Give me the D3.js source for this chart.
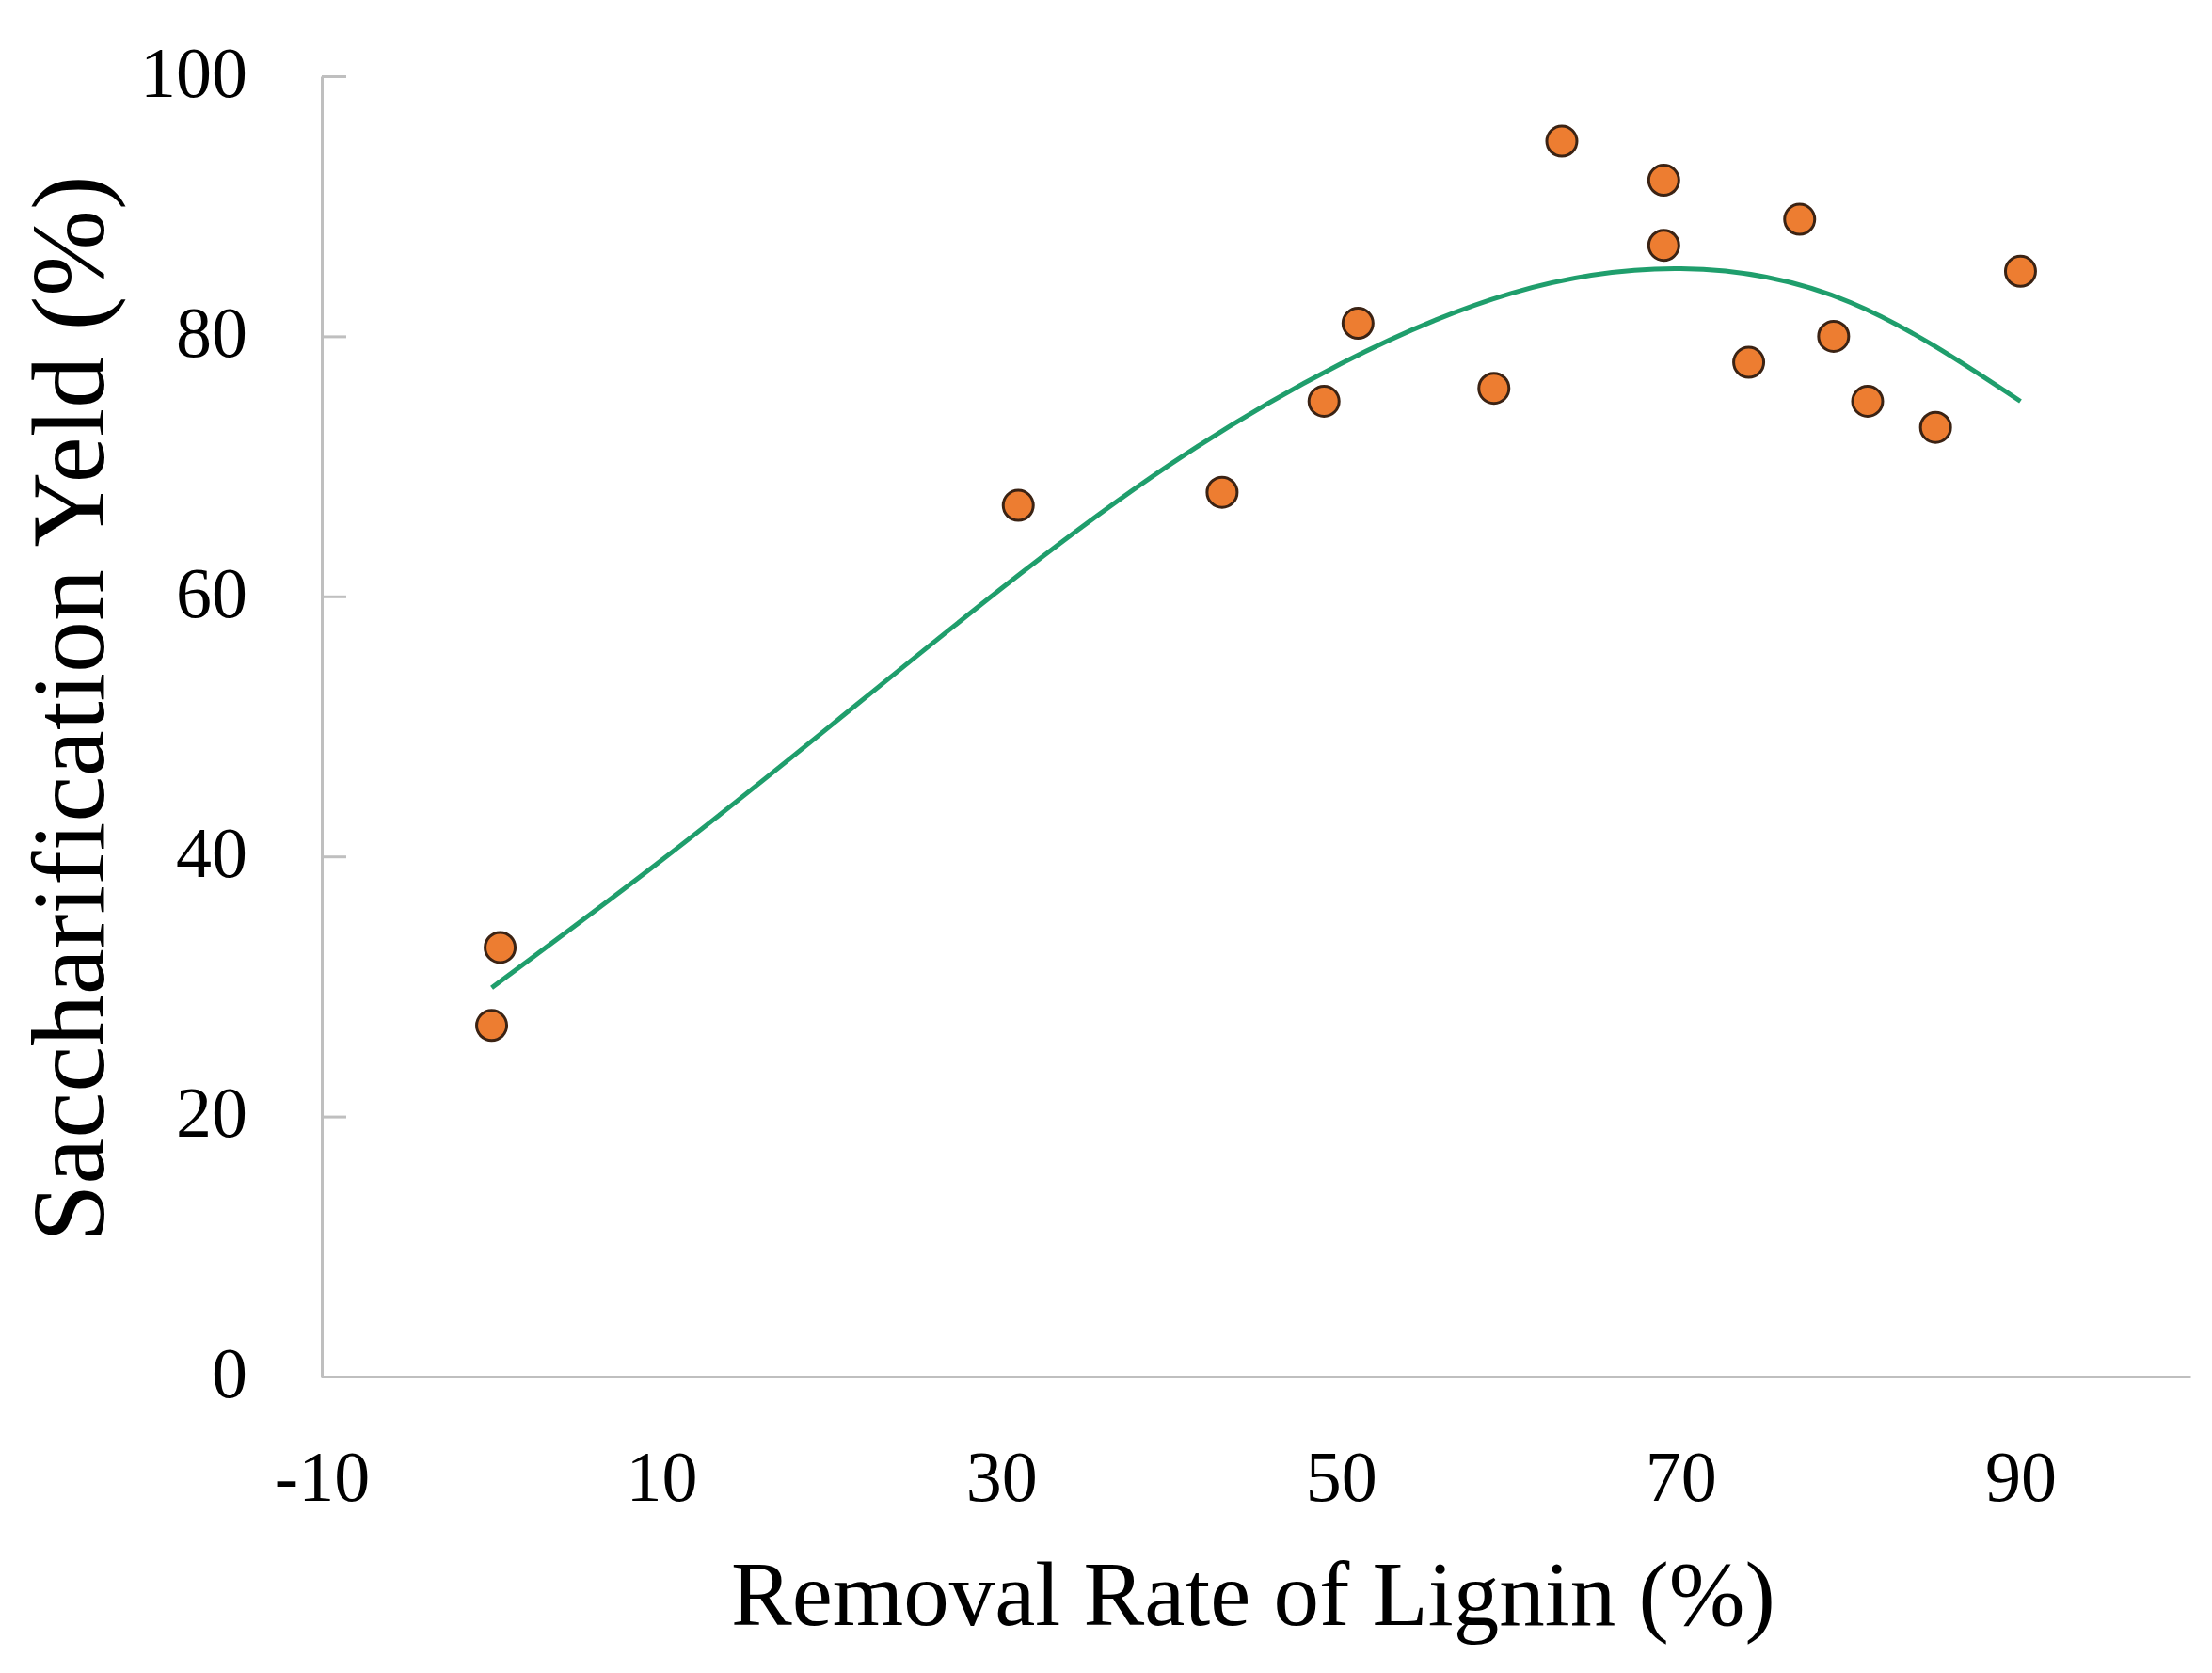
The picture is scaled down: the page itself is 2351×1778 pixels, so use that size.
<!DOCTYPE html>
<html>
<head>
<meta charset="utf-8">
<script src="https://cdn.jsdelivr.net/npm/d3@7"></script>
<style>
  body { margin: 0; background: #fff; }
  svg { display: block; }
</style>
</head>
<body>
<div id="chart"></div>
<script>
// data
const removalRate = [0, 0.5, 31, 43, 49, 51, 59, 63, 69, 69, 74, 77, 79, 81, 85, 90];
const yieldPct    = [27, 33, 67, 68, 75, 81, 76, 95, 92, 87, 78, 89, 80, 75, 73, 85];

// trend line, every 10 units
const trendX = [0, 10, 20, 30, 40, 50, 60, 70, 80, 90];
const trendY = [29.9, 39.7, 50.1, 60.6, 70.2, 77.9, 83.3, 85.2, 82.6, 75.0];

const xTicks = [-10, 10, 30, 50, 70, 90];
const yTicks = [0, 20, 40, 60, 80, 100];

const width = 2351, height = 1778;
const font = "'Liberation Serif', 'Times New Roman', serif";

const svg = d3.select("#chart")
  .append("svg").attr("width", width).attr("height", height);

const x = d3.scaleLinear().domain([-10, 100]).range([342, 2328]);
const y = d3.scaleLinear().domain([0, 100]).range([1463, 81]);

// ==== Axes ====
const gy = svg.append("g")
  .attr("transform", `translate(${x(-10)},0)`)
  .call(d3.axisLeft(y).tickValues(yTicks).tickSizeInner(-26).tickSizeOuter(0).tickPadding(79));

const gx = svg.append("g")
  .attr("transform", `translate(0,${y(0)})`)
  .call(d3.axisBottom(x).tickValues(xTicks).tickSize(0).tickPadding(78)
    .tickFormat(d => String(d)));

[gx, gy].forEach(g => {
  g.select(".domain").attr("stroke", "#bfbfbf").attr("stroke-width", 3);
  g.selectAll(".tick line").attr("stroke", "#bfbfbf").attr("stroke-width", 3);
  g.selectAll(".tick text")
    .attr("fill", "#000")
    .style("font-family", font)
    .style("font-size", "76px");
});
gy.selectAll(".tick text").attr("dy", "0.28em");

// ==== Trend line ====
const trend = trendX.map((v, i) => ({x: v, y: trendY[i]}));
svg.append("path")
  .datum(trend)
  .attr("fill", "none")
  .attr("stroke", "#1f9e6c")
  .attr("stroke-width", 5)
  .attr("d", d3.line().x(d => x(d.x)).y(d => y(d.y)).curve(d3.curveNatural));

// ==== Points ====
const points = removalRate.map((v, i) => ({x: v, y: yieldPct[i]}));
svg.selectAll("circle")
  .data(points)
  .join("circle")
  .attr("cx", d => x(d.x))
  .attr("cy", d => y(d.y))
  .attr("r", 16)
  .attr("fill", "#ed7d31")
  .attr("stroke", "#3b2314")
  .attr("stroke-width", 3);

// ==== Axis titles ====
svg.append("text")
  .attr("x", 1332)
  .attr("y", 1727)
  .attr("text-anchor", "middle")
  .style("font-family", font)
  .style("font-size", "97px")
  .text("Removal Rate of Lignin (%)");

svg.append("text")
  .attr("transform", `translate(110,753) rotate(-90)`)
  .attr("text-anchor", "middle")
  .style("font-family", font)
  .style("font-size", "110px")
  .text("Saccharification Yeld (%)");
</script>
</body>
</html>
